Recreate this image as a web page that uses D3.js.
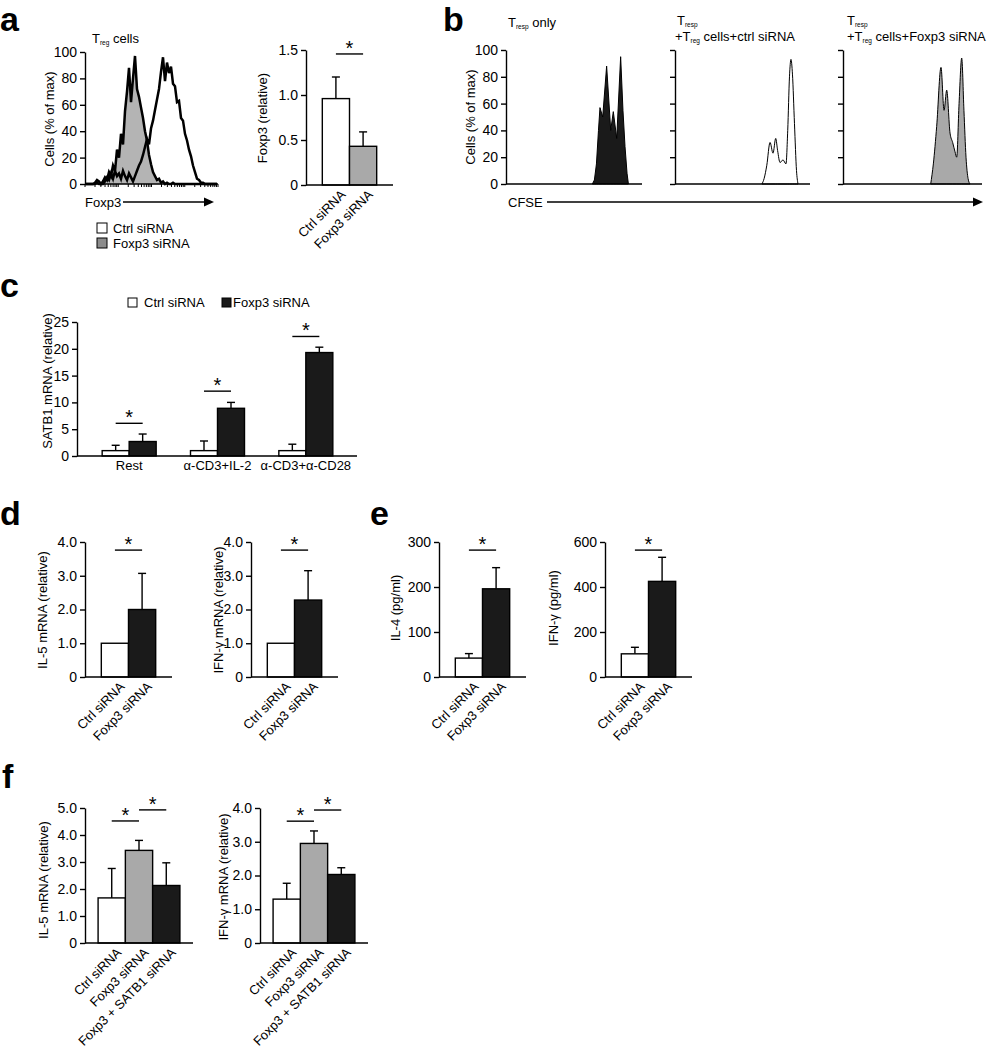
<!DOCTYPE html>
<html><head><meta charset="utf-8">
<script src="https://cdn.jsdelivr.net/npm/d3@7"></script>
<style>
body{margin:0;background:#fff}
svg{display:block}
text{font-family:'Liberation Sans',Arial,Helvetica,sans-serif;fill:#000}
</style>
</head><body>
<svg id="fig" width="991" height="1050"></svg>
<script>
// ---------------- DATA ----------------
// Panel a: Foxp3 histogram (bins across the Foxp3 axis, % of max)
const aHistCtrl = [0,0,0,0,0,0,1,0,0,0, 2,5,3,8,4,10,6,8,4,10, 6,3,8,5,2,6,10,14,17,22,
                   28,34,30,42,48,56,64,72,85,96, 78,92,84,89,76,74,62,63,50,48, 38,33,26,21,14,9,4,3,1,1,
                   0,0,0,0,0,0,0];
const aHistFoxp3 = [0,0,0,0,0,1,3,2,0,2, 5,3,9,6,14,10,26,20,38,30, 55,70,88,62,80,97,72,66,58,50,
                    40,33,22,15,9,6,3,4,1,2, 0,1,0,0,1,0,0,0,0,0, 0,0,0,0,0,0,0,0,0,0, 0,0,0,0,0,0,0];
const aLegend = ["Ctrl siRNA", "Foxp3 siRNA"];
// Panel a: Foxp3 (relative)
const aBarCats = ["Ctrl siRNA", "Foxp3 siRNA"];
const aBarVals = [0.96, 0.43];
const aBarErr  = [1.20, 0.59];
const aBarTicks = [0, 0.5, 1.0, 1.5];

// Panel b: CFSE histograms ([CFSE position %, cells % of max])
const bTrespOnly = [[63.5,0],[65,3],[66.5,15],[68,40],[69.1,57],[71.1,50],[74,88],[77,40],[78.9,54],
                    [81.4,34],[84.3,95],[86,55],[87.5,28],[89,8],[90,0]];
const bCtrlSiRNA = [[64.4,0],[66,4],[68,14],[70.4,31],[72.6,23],[74.6,34],[76,25],[77.8,16],[80,18],
                    [82.2,15],[83.5,40],[84.8,80],[85.9,93],[87,82],[88.5,45],[90,10],[91.1,0]];
const bFoxp3SiRNA = [[63.1,0],[65,15],[67.4,43],[70.5,87],[72.7,55],[74.6,70],[77,38],[78.9,31],
                     [80.6,24],[81.8,20],[83.5,60],[85.4,94],[87,55],[88.5,20],[90,4],[91.4,0]];
const bTicks = [0,20,40,60,80,100];

// Panel c: SATB1 mRNA
const cGroups = ["Rest", "\u03b1-CD3+IL-2", "\u03b1-CD3+\u03b1-CD28"];
const cSeries = ["Ctrl siRNA", "Foxp3 siRNA"];
const cCtrl     = [1.0, 1.0, 1.0];
const cCtrlErr  = [2.0, 2.8, 2.2];
const cFoxp3    = [2.7, 8.9, 19.3];
const cFoxp3Err = [4.1, 10.0, 20.3];
const cTicks = [0,5,10,15,20,25];

// Panel d
const dCats = ["Ctrl siRNA", "Foxp3 siRNA"];
const dIL5 = [1.0, 2.0];      const dIL5Err = [null, 3.07];
const dIFNg = [1.0, 2.28];    const dIFNgErr = [null, 3.15];
const dTicks = [0,1,2,3,4];

// Panel e
const eCats = ["Ctrl siRNA", "Foxp3 siRNA"];
const eIL4 = [42, 196];       const eIL4Err = [52, 243];
const eIFNg = [103, 425];     const eIFNgErr = [132, 532];
const eIL4Ticks = [0,100,200,300];
const eIFNgTicks = [0,200,400,600];

// Panel f
const fCats = ["Ctrl siRNA", "Foxp3 siRNA", "Foxp3 + SATB1 siRNA"];
const fIL5 = [1.67, 3.43, 2.13];   const fIL5Err = [2.76, 3.80, 2.97];
const fIFNg = [1.30, 2.95, 2.03];  const fIFNgErr = [1.77, 3.32, 2.23];
const fIL5Ticks = [0,1,2,3,4,5];
const fIFNgTicks = [0,1,2,3,4];

// ---------------- DRAWING ----------------
const svg = d3.select("#fig");
svg.append("rect").attr("width",991).attr("height",1050).attr("fill","#fff");
const LW = 1.4;
const WHITE = "#ffffff", GRAY = "#a9a9a9", BLACK = "#1a1a1a";
const fmt1 = v => v === 0 ? "0" : d3.format(".1f")(v);
const fmt0 = v => String(v);

function letter(t, x, y) {
  svg.append("text").attr("x", x).attr("y", y).attr("font-size", 34)
     .attr("font-weight", "bold").text(t);
}

function drawYAxis(x, y, ticks, fmt, showLabels) {
  const ax = d3.axisLeft(y).tickValues(ticks).tickSize(5).tickSizeOuter(0).tickPadding(3)
    .tickFormat(showLabels ? fmt : () => "");
  const ga = svg.append("g").attr("transform", `translate(${x},0)`).call(ax);
  ga.attr("font-family", null).attr("font-size", null);
  ga.select(".domain").attr("stroke", "#000").attr("stroke-width", LW);
  ga.selectAll(".tick line").attr("stroke", "#000").attr("stroke-width", LW);
  ga.selectAll(".tick text").attr("font-size", 14).attr("fill", "#000");
  return ga;
}

function hLine(x1, x2, y, w) {
  svg.append("line").attr("x1", x1).attr("x2", x2).attr("y1", y).attr("y2", y)
     .attr("stroke", "#000").attr("stroke-width", w || LW);
}

function yLabel(text, x, y) {
  svg.append("text").attr("transform", `translate(${x},${y}) rotate(-90)`)
     .attr("text-anchor", "middle").attr("dy", "0.35em").attr("font-size", 13).text(text);
}

function star(x, y) {
  svg.append("text").attr("x", x).attr("y", y + 1).attr("text-anchor", "middle")
     .attr("font-size", 20).text("*");
}

function sig(x1, x2, y) {
  hLine(x1, x2, y);
  star((x1 + x2) / 2, y);
}

function errBar(cx, yTop, yErr) {
  svg.append("line").attr("x1", cx).attr("x2", cx).attr("y1", yTop).attr("y2", yErr)
     .attr("stroke", "#000").attr("stroke-width", LW);
  hLine(cx - 4, cx + 4, yErr);
}

function arrow(x1, x2, y) {
  hLine(x1, x2 - 8, y, 1.3);
  svg.append("path").attr("d", `M${x2},${y} L${x2 - 10},${y - 4.5} L${x2 - 10},${y + 4.5} Z`)
     .attr("fill", "#000");
}

function subTitle(x, y, prefix, sub, rest) {
  const t = svg.append("text").attr("x", x).attr("y", y).attr("font-size", 13);
  t.append("tspan").text(prefix + "T");
  t.append("tspan").attr("font-size", 6.5).attr("dy", 2).text(sub);
  t.append("tspan").attr("dy", -2).text(rest);
}

function barChart(o) {
  const y = d3.scaleLinear().domain([0, o.max]).range([o.y0, o.y1]);
  const x = d3.scaleBand().domain(o.cats).range([o.x0, o.x0 + o.len])
              .paddingInner(0).paddingOuter(o.pad);
  const bw = x.bandwidth();
  o.cats.forEach((c, i) => {
    if (o.errs[i] != null) errBar(x(c) + bw / 2, y(o.vals[i]), y(o.errs[i]));
  });
  svg.append("g").selectAll("rect").data(o.cats).join("rect")
    .attr("x", c => x(c)).attr("width", bw)
    .attr("y", (c, i) => y(o.vals[i])).attr("height", (c, i) => o.y0 - y(o.vals[i]))
    .attr("fill", (c, i) => o.fills[i]).attr("stroke", "#000").attr("stroke-width", LW);
  drawYAxis(o.x0, y, o.ticks, o.fmt, true);
  hLine(o.x0, o.x0 + o.len, o.y0);
  svg.append("g").selectAll("text").data(o.cats).join("text")
    .attr("transform", c => `translate(${x(c) + bw / 2 + 4},${o.y0 + 4}) rotate(-45)`)
    .attr("text-anchor", "end").attr("dy", "0.7em").attr("font-size", 13).text(c => c);
  yLabel(o.label, o.labelX, o.labelY);
  (o.sigs || []).forEach(s => sig(x(o.cats[s[0]]) + bw / 2, x(o.cats[s[1]]) + bw / 2, y(s[2])));
}

// ===== Panel a =====
letter("a", 0, 31);
{
  const x = d3.scaleLinear().domain([0, aHistCtrl.length - 1]).range([85, 217]);
  const y = d3.scaleLinear().domain([0, 100]).range([184, 52]);
  const area = d3.area().x((d, i) => x(i)).y0(y(0)).y1(d => y(d));
  const line = d3.line().x((d, i) => x(i)).y(d => y(d));
  svg.append("path").attr("d", area(aHistCtrl)).attr("fill", WHITE);
  svg.append("path").attr("d", area(aHistFoxp3)).attr("fill", "#b4b4b4");
  svg.append("path").attr("d", line(aHistCtrl)).attr("fill", "none").attr("stroke", "#000").attr("stroke-width", 2.5);
  svg.append("path").attr("d", line(aHistFoxp3)).attr("fill", "none").attr("stroke", "#000").attr("stroke-width", 2.5);
  drawYAxis(85, y, bTicks, fmt0, true);
  hLine(85, 218, 184);
  const lx = d3.scaleLog().domain([1, 1e4]).range([85, 218]);
  svg.append("g").selectAll("line").data(lx.ticks()).join("line")
    .attr("x1", d => lx(d)).attr("x2", d => lx(d)).attr("y1", 184).attr("y2", 187)
    .attr("stroke", "#000").attr("stroke-width", 1);
  yLabel("Cells (% of max)", 49, 119);
  subTitle(92, 43, "", "reg", " cells");
  svg.append("text").attr("x", 85).attr("y", 207).attr("font-size", 13).text("Foxp3");
  arrow(123, 214, 202);
  const lg = [WHITE, "#8c8c8c"];
  aLegend.forEach((t, i) => {
    svg.append("rect").attr("x", 97).attr("y", 223 + i * 15).attr("width", 10).attr("height", 10)
       .attr("fill", lg[i]).attr("stroke", "#000").attr("stroke-width", 1);
    svg.append("text").attr("x", 113).attr("y", 233 + i * 15).attr("font-size", 13).text(t);
  });
}
barChart({x0: 306, len: 87, pad: 0.6, y0: 185, y1: 50, max: 1.5, cats: aBarCats,
  vals: aBarVals, errs: aBarErr, fills: [WHITE, GRAY], ticks: aBarTicks,
  fmt: v => v === 0 ? "0" : d3.format(".1f")(v), label: "Foxp3 (relative)", labelX: 262, labelY: 118,
  sigs: [[0, 1, 1.456]]});

// ===== Panel b =====
letter("b", 443, 31);
{
  const panels = [
    {x0: 506, w: 136, pts: bTrespOnly, fill: BLACK, curve: d3.curveLinear, labels: true},
    {x0: 675, w: 135, pts: bCtrlSiRNA, fill: WHITE, curve: d3.curveMonotoneX, labels: false},
    {x0: 843, w: 139, pts: bFoxp3SiRNA, fill: GRAY, curve: d3.curveMonotoneX, labels: false}
  ];
  panels.forEach(p => {
    const x = d3.scaleLinear().domain([0, 100]).range([p.x0, p.x0 + p.w]);
    const y = d3.scaleLinear().domain([0, 100]).range([184, 50]);
    const area = d3.area().x(d => x(d[0])).y0(y(0)).y1(d => y(d[1])).curve(p.curve);
    svg.append("path").attr("d", area(p.pts)).attr("fill", p.fill)
       .attr("stroke", "#000").attr("stroke-width", 1);
    drawYAxis(p.x0, y, bTicks, fmt0, p.labels);
    hLine(p.x0, p.x0 + p.w, 184);
  });
  yLabel("Cells (% of max)", 470, 117);
  subTitle(508, 27, "", "resp", " only");
  subTitle(677, 25, "", "resp", "");
  subTitle(675, 41, "+", "reg", " cells+ctrl siRNA");
  subTitle(847, 25, "", "resp", "");
  subTitle(847, 41, "+", "reg", " cells+Foxp3 siRNA");
  svg.append("text").attr("x", 508).attr("y", 207).attr("font-size", 13).text("CFSE");
  arrow(547, 983, 202);
}

// ===== Panel c =====
letter("c", 0, 297);
{
  const y = d3.scaleLinear().domain([0, 25]).range([456, 322]);
  const gx = d3.scaleBand().domain(cGroups).range([85, 350]);
  const sx = d3.scaleBand().domain(cSeries).range([-27, 27]);
  const bw = sx.bandwidth();
  const vals = [cCtrl, cFoxp3], errs = [cCtrlErr, cFoxp3Err], fills = [WHITE, BLACK];
  cSeries.forEach((s, si) => {
    cGroups.forEach((g, gi) => {
      const cx = gx(g) + gx.bandwidth() / 2 + sx(s) + bw / 2;
      errBar(cx, y(vals[si][gi]), y(errs[si][gi]));
    });
  });
  cSeries.forEach((s, si) => {
    svg.append("g").selectAll("rect").data(cGroups).join("rect")
      .attr("x", g => gx(g) + gx.bandwidth() / 2 + sx(s)).attr("width", bw)
      .attr("y", (g, gi) => y(vals[si][gi])).attr("height", (g, gi) => 456 - y(vals[si][gi]))
      .attr("fill", fills[si]).attr("stroke", "#000").attr("stroke-width", LW);
  });
  drawYAxis(77, y, cTicks, fmt0, true);
  hLine(77, 357, 456);
  svg.append("g").selectAll("text").data(cGroups).join("text")
    .attr("x", g => gx(g) + gx.bandwidth() / 2).attr("y", 470).attr("text-anchor", "middle")
    .attr("font-size", 13).text(g => g);
  const sigLv = [6.1, 12.1, 22.3];
  cGroups.forEach((g, gi) => {
    const c = gx(g) + gx.bandwidth() / 2;
    sig(c - bw / 2, c + bw / 2, y(sigLv[gi]));
  });
  yLabel("SATB1 mRNA (relative)", 47, 381);
  const lx = [128, 222], tx = [144, 233];
  cSeries.forEach((s, i) => {
    svg.append("rect").attr("x", lx[i]).attr("y", 298).attr("width", 9).attr("height", 9)
       .attr("fill", fills[i]).attr("stroke", "#000").attr("stroke-width", 1);
    svg.append("text").attr("x", tx[i]).attr("y", 307).attr("font-size", 13).text(s);
  });
}

// ===== Panel d =====
letter("d", 0, 525);
barChart({x0: 85, len: 87, pad: 0.6, y0: 677, y1: 542, max: 4, cats: dCats,
  vals: dIL5, errs: dIL5Err, fills: [WHITE, BLACK], ticks: dTicks, fmt: fmt1,
  label: "IL-5 mRNA (relative)", labelX: 42, labelY: 610, sigs: [[0, 1, 3.76]]});
barChart({x0: 251, len: 87, pad: 0.6, y0: 677, y1: 542, max: 4, cats: dCats,
  vals: dIFNg, errs: dIFNgErr, fills: [WHITE, BLACK], ticks: dTicks, fmt: fmt1,
  label: "IFN-\u03b3 mRNA (relative)", labelX: 218, labelY: 610, sigs: [[0, 1, 3.76]]});

// ===== Panel e =====
letter("e", 370, 525);
barChart({x0: 439, len: 87, pad: 0.6, y0: 677, y1: 542, max: 300, cats: eCats,
  vals: eIL4, errs: eIL4Err, fills: [WHITE, BLACK], ticks: eIL4Ticks, fmt: fmt0,
  label: "IL-4 (pg/ml)", labelX: 395, labelY: 608, sigs: [[0, 1, 282]]});
barChart({x0: 605, len: 87, pad: 0.6, y0: 677, y1: 542, max: 600, cats: eCats,
  vals: eIFNg, errs: eIFNgErr, fills: [WHITE, BLACK], ticks: eIFNgTicks, fmt: fmt0,
  label: "IFN-\u03b3 (pg/ml)", labelX: 553, labelY: 608, sigs: [[0, 1, 564]]});

// ===== Panel f =====
letter("f", 2, 788);
barChart({x0: 85, len: 108, pad: 0.48, y0: 943, y1: 808, max: 5, cats: fCats,
  vals: fIL5, errs: fIL5Err, fills: [WHITE, GRAY, BLACK], ticks: fIL5Ticks, fmt: fmt1,
  label: "IL-5 mRNA (relative)", labelX: 43, labelY: 880, sigs: [[0, 1, 4.52], [1, 2, 4.93]]});
barChart({x0: 260, len: 108, pad: 0.48, y0: 943, y1: 808, max: 4, cats: fCats,
  vals: fIFNg, errs: fIFNgErr, fills: [WHITE, GRAY, BLACK], ticks: fIFNgTicks, fmt: fmt1,
  label: "IFN-\u03b3 mRNA (relative)", labelX: 223, labelY: 877, sigs: [[0, 1, 3.61], [1, 2, 3.94]]});
</script>
</body></html>
